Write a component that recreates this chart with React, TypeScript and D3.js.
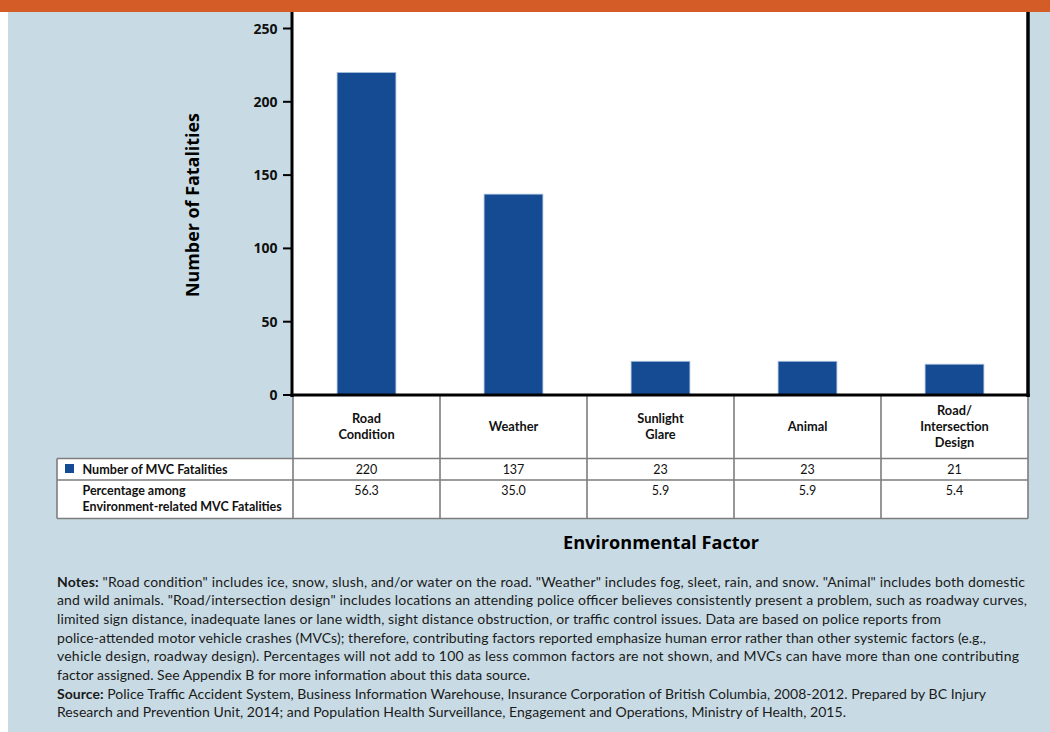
import React from "react";
import * as d3 from "d3";

const categories = ["Road Condition", "Weather", "Sunlight Glare", "Animal", "Road/Intersection Design"];
const categoryLines = [["Road", "Condition"], ["Weather"], ["Sunlight", "Glare"], ["Animal"], ["Road/", "Intersection", "Design"]];
const fatalities = [220, 137, 23, 23, 21];
const percentages = ["56.3", "35.0", "5.9", "5.9", "5.4"];
const yTicks = [0, 50, 100, 150, 200, 250];
const rowLabel1 = "Number of MVC Fatalities";
const rowLabel2 = ["Percentage among", "Environment-related MVC Fatalities"];
const yTitle = "Number of Fatalities";
const xTitle = "Environmental Factor";
const noteLines = [
  { bold: "Notes:", text: " \"Road condition\" includes ice, snow, slush, and/or water on the road. \"Weather\" includes fog, sleet, rain, and snow. \"Animal\" includes both domestic", end: 1025 },
  { bold: "", text: "and wild animals. \"Road/intersection design\" includes locations an attending police officer believes consistently present a problem, such as roadway curves,", end: 1027 },
  { bold: "", text: "limited sign distance, inadequate lanes or lane width, sight distance obstruction, or traffic control issues. Data are based on police reports from", end: 941 },
  { bold: "", text: "police-attended motor vehicle crashes (MVCs); therefore, contributing factors reported emphasize human error rather than other systemic factors (e.g.,", end: 986 },
  { bold: "", text: "vehicle design, roadway design). Percentages will not add to 100 as less common factors are not shown, and MVCs can have more than one contributing", end: 1019 },
  { bold: "", text: "factor assigned. See Appendix B for more information about this data source.", end: 530 },
  { bold: "Source:", text: " Police Traffic Accident System, Business Information Warehouse, Insurance Corporation of British Columbia, 2008-2012. Prepared by BC Injury", end: 986 },
  { bold: "", text: "Research and Prevention Unit, 2014; and Population Health Surveillance, Engagement and Operations, Ministry of Health, 2015.", end: 846 },
];

const FONT = "Lato, 'Open Sans', sans-serif";
const FONT2 = "'Open Sans', Lato, sans-serif";
const BAR = "#154b93";
const BG = "#c8dbe4";
const GRID = "#7d7d7d";

export default function App() {
  const W = 1050, H = 732;
  const plotL = 293, plotR = 1028, plotT = 12, plotB = 395;
  const y = d3.scaleLinear().domain([0, 250]).range([plotB, 28.5]);
  const x = d3.scaleBand<string>().domain(categories).range([plotL, plotR]).paddingInner(0.6).paddingOuter(0.3);
  const col = d3.scaleBand<string>().domain(categories).range([plotL, plotR]).padding(0);

  const tableL = 57;
  const hdrB = 458.5, row1B = 480, row2B = 518.5;
  const noteX = 57;
  const noteY0 = 586.5;
  const noteDy = 18.7;

  return (
    <svg width={W} height={H} style={{ position: "absolute", left: 0, top: 0, fontFamily: FONT }}>
      <rect x={0} y={0} width={W} height={H} fill="#ffffff" />
      <rect x={8} y={12} width={W - 8} height={H - 12} fill={BG} />
      <rect x={0} y={0} width={W} height={12} fill="#d35c27" />

      {/* plot area */}
      <rect x={plotL} y={plotT} width={plotR - plotL} height={plotB - plotT} fill="#fff" />
      {categories.map((c, i) => (
        <rect key={c} x={x(c)} y={y(fatalities[i])} width={x.bandwidth()} height={y(0) - y(fatalities[i])}
          fill={BAR} stroke="#a9c0dc" strokeWidth={0.8} />
      ))}

      {/* table */}
      <rect x={plotL} y={plotB} width={plotR - plotL} height={hdrB - plotB} fill="#fff" />
      <rect x={tableL} y={hdrB} width={plotR - tableL} height={row2B - hdrB} fill="#fff" />
      {categories.map((c) => (
        <line key={"v" + c} x1={col(c)!} x2={col(c)!} y1={plotB} y2={row2B} stroke={GRID} strokeWidth={1.6} />
      ))}
      <line x1={plotR} x2={plotR} y1={plotB} y2={row2B} stroke={GRID} strokeWidth={1.6} />
      <line x1={tableL} x2={tableL} y1={hdrB} y2={row2B} stroke={GRID} strokeWidth={1.6} />
      <line x1={tableL} x2={plotR} y1={hdrB} y2={hdrB} stroke={GRID} strokeWidth={1.6} />
      <line x1={tableL} x2={plotR} y1={row1B} y2={row1B} stroke={GRID} strokeWidth={1.6} />
      <line x1={tableL} x2={plotR} y1={row2B} y2={row2B} stroke={GRID} strokeWidth={1.6} />

      {categories.map((c, i) => {
        const lines = categoryLines[i];
        const cx = col(c)! + col.bandwidth() / 2;
        const mid = (plotB + hdrB) / 2 + 4;
        return (
          <text key={"h" + c} x={cx} textAnchor="middle" fontSize={12.8} fontWeight={700} fill="#111">
            {lines.map((l, j) => (
              <tspan key={j} x={cx} y={mid + (j - (lines.length - 1) / 2) * 16}>{l}</tspan>
            ))}
          </text>
        );
      })}
      {categories.map((c, i) => {
        const cx = col(c)! + col.bandwidth() / 2;
        return (
          <g key={"val" + c}>
            <text x={cx} y={473.5} textAnchor="middle" fontSize={12.5} fill="#111">{fatalities[i]}</text>
            <text x={cx} y={495} textAnchor="middle" fontSize={12.5} fill="#111">{percentages[i]}</text>
          </g>
        );
      })}
      <rect x={65} y={464} width={9} height={9} fill={BAR} />
      <text x={82.5} y={473.5} fontSize={12.6} fontWeight={700} fill="#111">{rowLabel1}</text>
      <text fontSize={12.5} fontWeight={700} fill="#111">
        <tspan x={82.5} y={495}>{rowLabel2[0]}</tspan>
        <tspan x={82.5} y={511}>{rowLabel2[1]}</tspan>
      </text>

      {/* axes frame */}
      <line x1={plotL - 1} x2={plotL - 1} y1={plotT} y2={plotB + 2} stroke="#000" strokeWidth={3} />
      <line x1={plotR} x2={plotR} y1={plotT} y2={plotB + 2} stroke="#000" strokeWidth={3.5} />
      <line x1={plotL - 2.5} x2={plotR + 1.75} y1={plotB} y2={plotB} stroke="#000" strokeWidth={3} />
      {yTicks.map((t) => (
        <g key={"t" + t}>
          <line x1={283} x2={plotL - 1} y1={y(t)} y2={y(t)} stroke="#000" strokeWidth={2} />
          <text x={277.5} y={y(t) + 5} textAnchor="end" fontSize={14} fontWeight={700} fill="#111" fontFamily={FONT2}>{t}</text>
        </g>
      ))}

      <text transform={`translate(199,205) rotate(-90)`} textAnchor="middle" fontSize={17} fontWeight={700} fill="#000"
        fontFamily={FONT2} textLength={184} lengthAdjust="spacingAndGlyphs">{yTitle}</text>
      <text x={661} y={548.5} textAnchor="middle" fontSize={17} fontWeight={700} fill="#000"
        fontFamily={FONT2} textLength={196} lengthAdjust="spacingAndGlyphs">{xTitle}</text>

      {noteLines.map((n, i) => (
        <text key={"n" + i} x={noteX} y={noteY0 + i * noteDy} fontSize={14} fill="#1a1a1a"
          textLength={n.end - noteX} lengthAdjust="spacing">
          {n.bold && <tspan fontWeight={700}>{n.bold}</tspan>}
          <tspan>{n.text}</tspan>
        </text>
      ))}
    </svg>
  );
}
